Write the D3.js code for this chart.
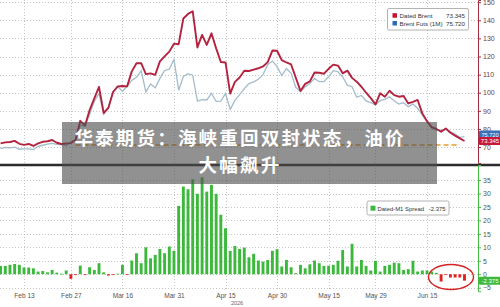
<!DOCTYPE html>
<html><head><meta charset="utf-8">
<script src="https://cdn.jsdelivr.net/npm/d3@7"></script>
<style>body{margin:0;background:#fff;}svg{display:block}</style>
</head><body>
<svg id="c" width="500" height="307"></svg>
<script>
// ---------- data ----------
const firstDay = "2026-02-06", lastDay = "2026-06-25";   // business days
const datedBrent = [72.0,72.6,72.8,73.4,71.8,71.2,71.7,70.6,72.0,72.9,
  73.2,73.9,72.4,71.7,72.0,72.2,73.9,84.5,81.8,90.4,
  96.9,103.2,88.8,91.6,100.4,103.5,103.7,103.5,111.8,116.3,
  116.3,110.3,110.7,109.9,117.3,120.1,122.7,127.1,126.8,141.0,
  143.5,145.0,125.0,131.9,126.4,132.8,124.5,117.0,116.7,99.5,
  106.0,108.4,112.1,112.0,112.8,113.5,114.5,116.9,123.3,123.2,
  118.0,116.7,115.6,108.3,101.0,104.9,106.3,111.2,111.0,110.5,
  113.2,115.5,115.0,110.7,112.2,108.2,106.1,103.3,100.0,97.0,
  93.6,99.7,97.8,101.1,98.7,97.8,98.2,94.1,95.0,96.0,
  88.6,84.3,81.0,80.0,78.5,80.3,77.9,76.3,74.8,73.345];
const brentFuts = [69.2,69.8,69.6,70.0,68.8,69.0,69.0,68.6,70.4,71.0,
  71.6,72.0,71.5,71.2,70.8,73.0,74.0,82.0,81.6,88.0,
  95.3,99.5,88.2,92.0,100.5,103.3,100.8,103.6,106.8,108.5,
  112.2,100.4,104.8,102.7,107.9,112.3,113.0,118.4,101.4,109.0,
  110.5,109.7,95.4,96.2,96.0,99.6,95.2,95.4,99.6,90.8,
  95.8,99.0,102.2,105.0,106.0,107.4,110.0,115.5,117.5,114.4,
  109.5,113.3,110.7,103.0,100.6,103.3,105.1,107.9,106.1,106.1,
  108.8,112.2,111.6,108.8,104.2,103.3,97.5,98.5,95.5,94.5,
  93.2,95.6,96.3,97.8,95.6,93.8,94.5,92.3,93.8,91.4,
  87.7,84.0,80.3,79.4,79.4,79.8,78.5,77.2,75.4,75.72];
const spread = [3.1,3.1,3.5,3.8,3.5,2.5,2.5,2.2,1.0,1.2,
  0.7,1.6,0.6,0.2,1.4,-1.7,-0.3,3.2,-0.2,2.6,
  1.6,4.1,0.7,-0.5,-0.3,0.2,3.5,-0.2,5.1,7.8,
  4.1,10.0,5.9,7.2,9.4,7.8,10.3,8.7,25.4,32.6,
  31.6,35.3,29.9,36.0,30.7,33.2,29.9,22.1,17.1,8.7,
  10.5,9.4,9.9,6.3,7.6,5.1,4.7,5.3,8.7,9.3,
  2.9,5.3,2.6,0.4,3.5,2.2,3.7,5.1,4.1,3.1,
  3.2,3.5,5.0,9.0,2.9,11.3,2.9,5.3,3.1,1.4,
  5.0,1.0,3.1,3.5,4.3,4.1,1.6,1.9,5.0,1.0,
  1.4,1.4,1.0,0.5,-2.7,-0.2,-1.2,-1.2,-1.2,-2.375];
const tickDates  = ["2026-02-13","2026-02-27","2026-03-16","2026-03-31","2026-04-15","2026-04-30","2026-05-15","2026-05-29","2026-06-15"];
const tickLabels = ["Feb 13","Feb 27","Mar 16","Mar 31","Apr 15","Apr 30","May 15","May 29","Jun 15"];
const topTicks = [70,80,90,100,110,120,130,140,150];
const bottomTicks = [-5,0,5,10,15,20,25,30,35];
const refLevel = 71.1, refFrom = "2026-03-02", refTo = "2026-06-24";
const seriesNames = ["Dated Brent","Brent Futs (1M)","Dated-M1 Spread"];
const lastLabels = ["73.345","75.720","-2.375"];
const titleLines = ["华泰期货：海峡重回双封状态，油价","大幅飙升"];

// ---------- scales ----------
const fmt = d3.utcFormat("%Y-%m-%d");
const days = d3.utcDay.range(new Date(firstDay+"T00:00Z"), d3.utcDay.offset(new Date(lastDay+"T00:00Z"),1))
  .filter(d => d.getUTCDay()!==0 && d.getUTCDay()!==6).map(fmt);
const x = d3.scalePoint().domain(days).range([0.6, 464.5]);
const yTop = d3.scaleLinear().domain([61.2,151.2]).range([163,0]);
const yBot = d3.scaleLinear().domain([-6.3,40.6]).range([291.2,165]);
const AX = 478;
const svg = d3.select("#c");
const tickFont = "'Liberation Sans Narrow','Liberation Sans',Arial,sans-serif";

// grid
const grid = svg.append("g").attr("stroke","#c4c4c4").attr("stroke-dasharray","1,2").attr("stroke-width",1);
topTicks.forEach(v => grid.append("line").attr("x1",0).attr("x2",AX).attr("y1",Math.round(yTop(v))+0.5).attr("y2",Math.round(yTop(v))+0.5));
bottomTicks.forEach(v => grid.append("line").attr("x1",0).attr("x2",AX).attr("y1",Math.round(yBot(v))+0.5).attr("y2",Math.round(yBot(v))+0.5));
tickDates.forEach(d => grid.append("line").attr("x1",Math.round(x(d))+0.5).attr("x2",Math.round(x(d))+0.5).attr("y1",0).attr("y2",291));

// reference dashed line
svg.append("line").attr("x1",x(refFrom)).attr("x2",x(refTo)).attr("y1",yTop(refLevel)).attr("y2",yTop(refLevel))
  .attr("stroke","#e39a2d").attr("stroke-width",1.5).attr("stroke-dasharray","5,3");

// lines
const lineOf = arr => d3.line().x((d,i)=>x(days[i])).y(d=>yTop(d))(arr);
svg.append("path").attr("d",lineOf(brentFuts)).attr("fill","none").attr("stroke","#a4bccb").attr("stroke-width",1.3);
svg.append("path").attr("d",lineOf(datedBrent)).attr("fill","none").attr("stroke","#b3233f").attr("stroke-width",1.9).attr("stroke-linejoin","round");

// bars
const bw = 2.9;
svg.append("g").selectAll("rect").data(spread).join("rect")
  .attr("x",(d,i)=>x(days[i])-bw/2).attr("width",bw)
  .attr("y",d=>yBot(Math.max(0,d))).attr("height",d=>Math.max(0.8,Math.abs(yBot(d)-yBot(0))))
  .attr("fill",d=>d<0?"#e3201f":"#3cb93c");

// separator
svg.append("line").attr("x1",0).attr("x2",500).attr("y1",165).attr("y2",165).attr("stroke","#2b2b2b").attr("stroke-width",2.5);

// right axes
const gTop = svg.append("g").attr("transform",`translate(${AX},0)`).call(d3.axisRight(yTop).tickValues(topTicks).tickSize(3).tickPadding(2));
gTop.select(".domain").attr("stroke","#a52a40");
gTop.selectAll(".tick line").attr("stroke","#a52a40");
gTop.selectAll("text").attr("fill","#6e3a45").style("font-family",tickFont).style("font-size","7px");
const gBot = svg.append("g").attr("transform",`translate(${AX},0)`).call(d3.axisRight(yBot).tickValues(bottomTicks).tickSize(3).tickPadding(2));
gBot.select(".domain").attr("stroke","#45bb45");
gBot.selectAll(".tick line").attr("stroke","#45bb45");
gBot.selectAll("text").attr("fill","#4b5e4b").style("font-family",tickFont).style("font-size","7px");

// x axis
const gx = svg.append("g").attr("transform","translate(0,290)")
  .call(d3.axisBottom(x).tickValues(tickDates).tickSize(0).tickPadding(3).tickFormat((d,i)=>tickLabels[i]));
gx.select(".domain").remove();
gx.selectAll("text").attr("fill","#555").style("font-family",tickFont).style("font-size","6.6px");
svg.append("text").attr("x",237).attr("y",305).attr("text-anchor","middle").attr("fill","#666")
  .style("font-family",tickFont).style("font-size","5.5px").text("2026");

// last value tags
function tag(yv, txt, col, fs){
  svg.append("rect").attr("x",AX+1).attr("y",yv-4).attr("width",22).attr("height",8).attr("rx",1).attr("fill",col);
  svg.append("text").attr("x",AX+12).attr("y",yv+2.1).attr("text-anchor","middle").attr("fill","#fff")
    .style("font-family",tickFont).style("font-size",fs+"px").text(txt);
}
tag(yTop(datedBrent[99]) - 6.5, lastLabels[1], "#3a70b5", 5.6);
tag(yTop(datedBrent[99]), lastLabels[0], "#c8183a", 6);
tag(yBot(spread[99]), lastLabels[2], "#3cb93c", 6);

// annotation ellipse
svg.append("ellipse").attr("cx",451).attr("cy",277).attr("rx",22.5).attr("ry",12.5)
  .attr("fill","none").attr("stroke","#d42424").attr("stroke-width",1.4);

// legends
const lf = "'Liberation Sans Narrow','Liberation Sans',Arial,sans-serif";
const lg = svg.append("g");
lg.append("rect").attr("x",387.5).attr("y",8.5).attr("width",81).attr("height",21.5).attr("rx",1.5).attr("fill","#fff").attr("stroke","#a0a0a0").attr("stroke-width",0.8);
[[seriesNames[0],lastLabels[0],"#c8102e",15.5],[seriesNames[1],lastLabels[1],"#2d6cb5",23.3]].forEach(([n,v,c,yy])=>{
  lg.append("rect").attr("x",392.5).attr("y",yy-2.3).attr("width",4.5).attr("height",4.5).attr("fill",c);
  lg.append("text").attr("x",399.5).attr("y",yy+2.2).attr("fill","#333").style("font-family",lf).style("font-size","6.2px").text(n);
  lg.append("text").attr("x",465).attr("y",yy+2.2).attr("text-anchor","end").attr("fill","#333").style("font-family",lf).style("font-size","6.2px").text(v);
});
const lg2 = svg.append("g");
lg2.append("rect").attr("x",367).attr("y",201).attr("width",82).attr("height",14).attr("rx",1.5).attr("fill","#fff").attr("stroke","#a0a0a0").attr("stroke-width",0.8);
lg2.append("rect").attr("x",370.5).attr("y",205.7).attr("width",5).attr("height",5).attr("fill","#3cb93c");
lg2.append("text").attr("x",377.5).attr("y",210.5).attr("fill","#333").style("font-family",lf).style("font-size","5.9px").text(seriesNames[2]);
lg2.append("text").attr("x",445.5).attr("y",210.5).attr("text-anchor","end").attr("fill","#333").style("font-family",lf).style("font-size","5.9px").text(lastLabels[2]);

// title banner
svg.append("rect").attr("x",62).attr("y",122).attr("width",375).attr("height",62).attr("fill","#4e4e4e").attr("opacity",0.62);
titleLines.forEach((t,i)=>{
  svg.append("text").attr("x",240).attr("y",144.5+i*27).attr("text-anchor","middle").attr("fill","#fff")
    .style("font-family","'Noto Sans CJK SC','Noto Sans CJK JP',sans-serif").style("font-weight","700")
    .style("font-size","18.5px").style("letter-spacing","2.2px").text(t);
});
</script>
</body></html>
